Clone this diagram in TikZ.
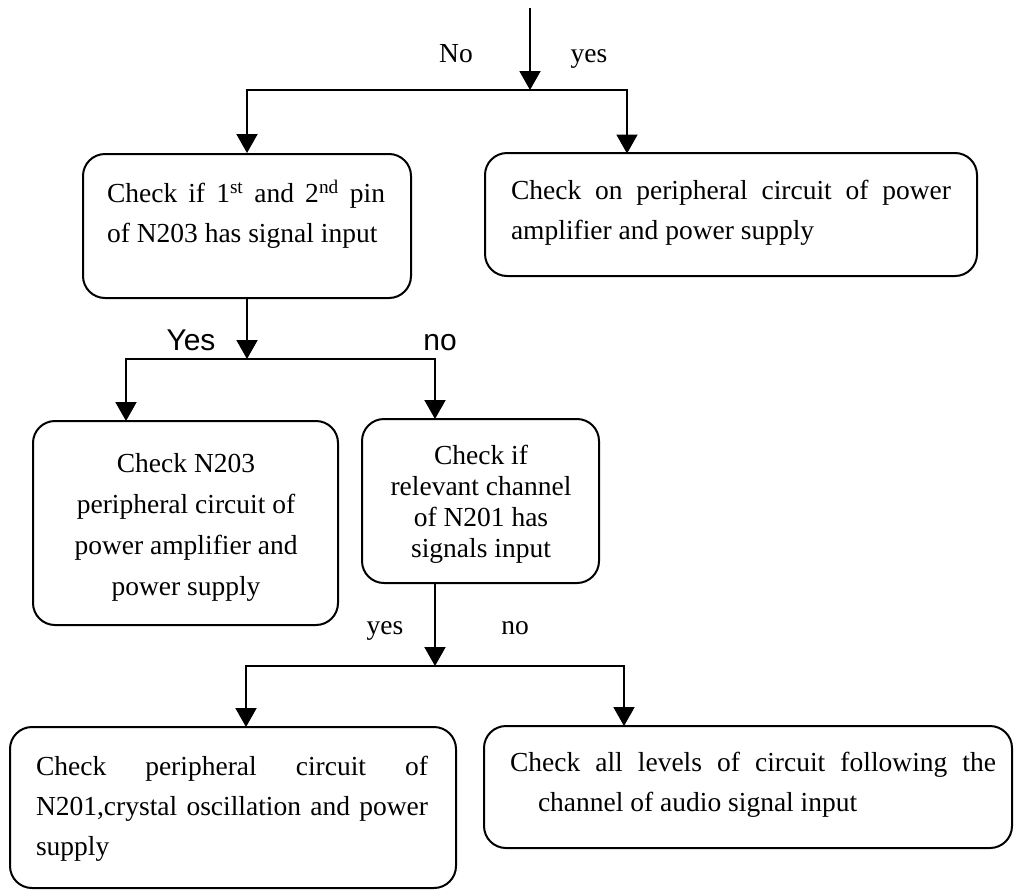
\documentclass[tikz,border=0pt]{standalone}
\usepackage{fontspec}
\setmainfont{Liberation Serif}
\newfontfamily\labelsans{Liberation Sans}
\usetikzlibrary{arrows.meta}
\tikzset{
  box/.style={draw, line width=2pt, rounded corners=22pt, inner sep=0pt},
  boxtext/.style={inner sep=0pt, font=\fontsize{27.5}{40}\selectfont},
  flow/.style={line width=2pt, -{Triangle[width=21pt,length=19pt]}},
  link/.style={line width=2pt},
  branch/.style={inner sep=0pt, anchor=base, font=\fontsize{27.5}{33}\selectfont},
  branchsans/.style={inner sep=0pt, anchor=base, font=\labelsans\fontsize{30}{36}\selectfont},
}
\begin{document}
\begin{tikzpicture}[x=1pt,y=-1pt]
\useasboundingbox (0,0) rectangle (1014,889);
% boxes
\node[box, minimum width=328pt, minimum height=144pt] (pin) at (247,226) {};
\node[box, minimum width=492pt, minimum height=123pt] (amp) at (731,214.5) {};
\node[box, minimum width=305pt, minimum height=204pt] (nchk) at (185.5,523) {};
\node[box, minimum width=237pt, minimum height=164pt] (chan) at (480.5,501) {};
\node[box, minimum width=446pt, minimum height=161pt] (osc) at (233,807.5) {};
\node[box, minimum width=528pt, minimum height=122pt] (audio) at (748,787) {};
% texts
\node[boxtext, text width=278pt, align=justify] (pintxt) at (246,214)
  {Check if 1\textsuperscript{st} and 2\textsuperscript{nd} pin\linebreak of N203 has signal input};
\node[boxtext, text width=440pt, align=justify] (amptxt) at (731,213)
  {Check on peripheral circuit of power\linebreak amplifier and power supply};
\node[boxtext, align=center, font=\fontsize{27.5}{41}\selectfont] (nchktxt) at (186,527)
  {Check N203\\peripheral circuit of\\power amplifier and\\power supply};
\node[boxtext, align=center, font=\fontsize{27.5}{31}\selectfont] (chantxt) at (481,504)
  {Check if\\relevant channel\\of N201 has\\signals input};
\node[boxtext, text width=392pt, align=justify] (osctxt) at (232,809)
  {Check peripheral circuit of\linebreak N201,crystal oscillation and power\linebreak supply};
\node[boxtext, text width=486pt, align=justify] (audiotxt) at (753,785)
  {Check all levels of circuit following the\linebreak\hspace*{28pt}channel of audio signal input};
% junctions
\coordinate (start) at (530,8);
\coordinate (j1) at (530,90);
\coordinate (ampin) at (627,153.5);
\coordinate (j2) at (247,359);
\coordinate (nchkin) at (126,421);
\coordinate (chanin) at (435,419);
\coordinate (j3) at (435,666);
\coordinate (oscin) at (246,727);
\coordinate (audioin) at (624,726);
% connectors
\draw[flow] (start) -- (j1);
\draw[flow] (j1) -| (pin.north);
\draw[flow] (j1) -| (ampin);
\draw[flow] (pin.south) -- (j2);
\draw[flow] (j2) -| (nchkin);
\draw[flow] (j2) -| (chanin);
\draw[flow] (chan.south -| j3) -- (j3);
\draw[flow] (j3) -| (oscin);
\draw[flow] (j3) -| (audioin);
% branch labels
\node[branch] (no1) at (456,62) {No};
\node[branch] (yes1) at (589,62) {yes};
\node[branchsans] (yes2) at (191,350) {Yes};
\node[branchsans] (no2) at (440,350) {no};
\node[branch] (yes3) at (385,634) {yes};
\node[branch] (no3) at (515,634) {no};
\end{tikzpicture}
\end{document}
